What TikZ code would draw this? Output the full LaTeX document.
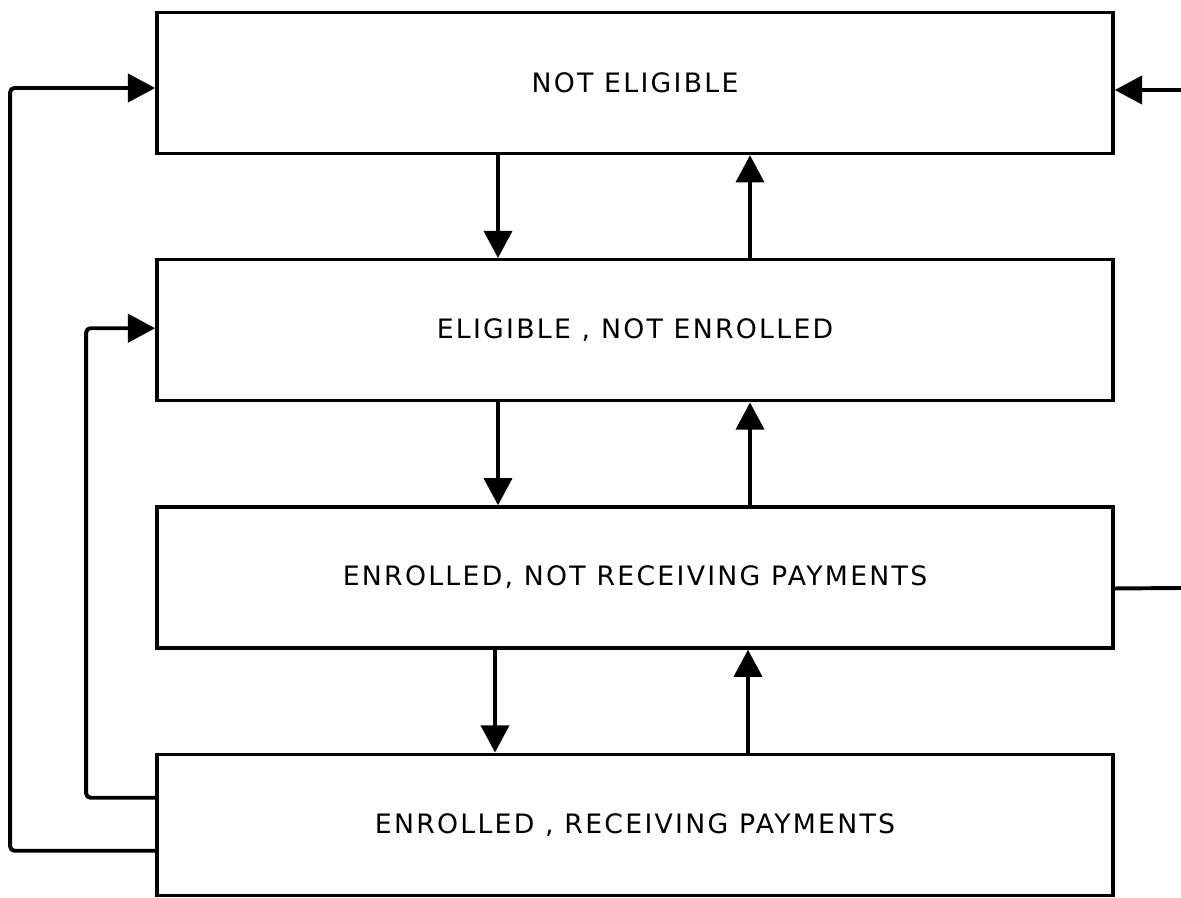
\documentclass[tikz,border=0pt]{standalone}
\usepackage{fontspec}
\setmainfont{DejaVu Sans}[LetterSpace=8.5]
\usepackage{tikz}
\usetikzlibrary{arrows.meta}
\tikzset{arrow/.style = {-{Triangle[length = 0.68cm, width = 0.7cm]}, line width = 2.8pt}}
\usetikzlibrary{positioning}
\usetikzlibrary{calc}
\tikzset{state/.style = {draw, line width = 2.4pt, minimum width = 23.9cm, minimum height = 3.525cm,
	font = \fontsize{19pt}{22pt}\selectfont, inner sep = 0pt}}

\begin{document}
\begin{tikzpicture}[x = 0.025cm, y = -0.025cm, node distance = 2.57cm]
	\useasboundingbox (0, 0) rectangle (1181, 898);

	%% States
	\node[state] (noteligible) at (635, 83) {NOT ELIGIBLE};
	\node[state, below = of noteligible] (eligible) {ELIGIBLE , NOT ENROLLED};
	\node[state, below = of eligible] (enrolled) {ENROLLED, NOT RECEIVING PAYMENTS};
	\node[state, below = of enrolled] (receiving) {ENROLLED , RECEIVING PAYMENTS};

	%% Transitions between neighbours
	\coordinate (dn) at (498, 0);
	\coordinate (up) at (750, 0);
	\draw[arrow] (noteligible.south -| dn) -- (eligible.north -| dn);
	\draw[arrow] (eligible.north -| up) -- (noteligible.south -| up);
	\draw[arrow] (eligible.south -| dn) -- (enrolled.north -| dn);
	\draw[arrow] (enrolled.north -| up) -- (eligible.south -| up);
	\draw[arrow] ([xshift = -0.075cm]enrolled.south -| dn) -- ([xshift = -0.075cm]receiving.north -| dn);
	\draw[arrow] ([xshift = -0.05cm]receiving.north -| up) -- ([xshift = -0.05cm]enrolled.south -| up);

	%% Loops back on the left
	\draw[arrow, rounded corners = 3pt] ($(receiving.west)+(0, 26)$) -| ($(noteligible.west)+(-145, 5)$) -- ($(noteligible.west)+(0, 5)$);
	\draw[arrow, rounded corners = 3pt] ($(receiving.west)+(0, -27)$) -| ($(eligible.west)+(-69, -2)$) -- ($(eligible.west)+(0, -2)$);

	%% Loop on the right (cut off at the edge)
	\coordinate (edgetop) at (1181, 90);
	\coordinate (edgemid) at (1181, 588);
	\draw[line width = 2.8pt] ($(enrolled.east)+(0, 11)$) -- (edgemid);
	\draw[arrow] (edgetop) -- ($(noteligible.east)+(0, 7)$);

\end{tikzpicture}
\end{document}
